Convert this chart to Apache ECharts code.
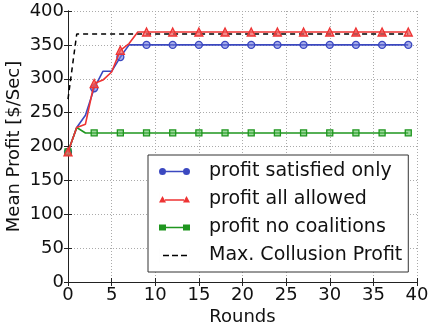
<!DOCTYPE html>
<html>
<head>
<meta charset="utf-8">
<script src="https://cdn.jsdelivr.net/npm/echarts@6/dist/echarts.min.js"></script>
<style>html,body{margin:0;padding:0;background:#fff}#c{width:428px;height:331px}</style>
</head>
<body>
<div id="c"></div>
<script>
var rounds = [0,1,2,3,4,5,6,7,8,9,10,11,12,13,14,15,16,17,18,19,20,21,22,23,24,25,26,27,28,29,30,31,32,33,34,35,36,37,38,39];
var satisfiedOnly = [192,228,246,286,311,311,332,350,350,350,350,350,350,350,350,350,350,350,350,350,350,350,350,350,350,350,350,350,350,350,350,350,350,350,350,350,350,350,350,350];
var allAllowed = [192,228,233,293,298,310,342,352,369,369,369,369,369,369,369,369,369,369,369,369,369,369,369,369,369,369,369,369,369,369,369,369,369,369,369,369,369,369,369,369];
var noCoalitions = [192,228,220,220,220,220,220,220,220,220,220,220,220,220,220,220,220,220,220,220,220,220,220,220,220,220,220,220,220,220,220,220,220,220,220,220,220,220,220,220];
var maxCollusion = [270,366,366,366,366,366,366,366,366,366,366,366,366,366,366,366,366,366,366,366,366,366,366,366,366,366,366,366,366,366,366,366,366,366,366,366,366,366,366,366];
var seriesNames = ['profit satisfied only','profit all allowed','profit no coalitions','Max. Collusion Profit'];
var xTicks = [0,5,10,15,20,25,30,35,40];
var yTicks = [0,50,100,150,200,250,300,350,400];

function pairs(ys){ return rounds.map(function(r,i){ return [r, ys[i]]; }); }
function markSize(size){ return function(v, p){ return p.dataIndex % 3 === 0 ? size : 0; }; }

var FONT = 'DejaVu Sans';
var blue = '#3b48c0', red = '#ee3333', green = '#1f961f';

var circleIcon = 'path://M0,7 A3.5,3.5 0 1 1 7,7 A3.5,3.5 0 1 1 0,7 Z M6,6.2 L25,6.2 L25,7.8 L6,7.8 Z M24,7 A3.5,3.5 0 1 1 31,7 A3.5,3.5 0 1 1 24,7 Z M0,0 L0.01,0 L0.01,14 L0,14 Z';
var triIcon = 'path://M0,10 L3.5,3.5 L7,10 Z M6,6.7 L25,6.7 L25,8.3 L6,8.3 Z M24,10 L27.5,3.5 L31,10 Z M0,0 L0.01,0 L0.01,14 L0,14 Z';
var sqIcon = 'path://M0,4 L7,4 L7,10 L0,10 Z M6,6.2 L25,6.2 L25,7.8 L6,7.8 Z M24,4 L31,4 L31,10 L24,10 Z M0,0 L0.01,0 L0.01,14 L0,14 Z';
var dashIcon = 'path://M4,6.3 L10,6.3 L10,7.7 L4,7.7 Z M13,6.3 L19,6.3 L19,7.7 L13,7.7 Z M22,6.3 L28,6.3 L28,7.7 L22,7.7 Z M0,0 L0.01,0 L0.01,14 L0,14 Z M31,0 L31.01,0 L31.01,14 L31,14 Z';

var chart = echarts.init(document.getElementById('c'));
var axisLine = {show:true, lineStyle:{color:'#222', width:1}};
var option = {
  animation:false,
  backgroundColor:'#fff',
  grid:{left:68, right:11, top:11, bottom:49, containLabel:false, outerBoundsMode:'none'},
  xAxis:[{
    type:'value', min:0, max:40, interval:5,
    name:'Rounds', nameLocation:'middle', nameGap:26, nameMoveOverlap:false,
    nameTextStyle:{fontFamily:FONT, fontSize:18, color:'#111'},
    axisLine:axisLine,
    axisTick:{show:true, inside:true, length:4, lineStyle:{color:'#222'}},
    axisLabel:{fontFamily:FONT, fontSize:18, color:'#111', margin:4, hideOverlap:false, showMinLabel:true, showMaxLabel:true,
      formatter:function(v){ return xTicks.indexOf(v)>=0 ? String(v) : ''; }},
    splitLine:{show:true, lineStyle:{color:'#aaa', type:[1,2], width:1}}
  },{
    type:'value', min:0, max:40, interval:5, position:'top',
    axisLine:axisLine, axisTick:{show:true, inside:true, length:4, lineStyle:{color:'#222'}},
    axisLabel:{show:false}, splitLine:{show:false}
  }],
  yAxis:[{
    type:'value', min:0, max:400, interval:50,
    name:'Mean Profit [$/Sec]', nameLocation:'middle', nameGap:45, nameMoveOverlap:false,
    nameTextStyle:{fontFamily:FONT, fontSize:18, color:'#111'},
    axisLine:axisLine,
    axisTick:{show:true, inside:true, length:4, lineStyle:{color:'#222'}},
    axisLabel:{fontFamily:FONT, fontSize:18, color:'#111', margin:4, showMinLabel:true, showMaxLabel:true,
      formatter:function(v){ return yTicks.indexOf(v)>=0 ? String(v) : ''; }},
    splitLine:{show:true, lineStyle:{color:'#aaa', type:[1,2], width:1}}
  },{
    type:'value', min:0, max:400, interval:50, position:'right',
    axisLine:axisLine, axisTick:{show:true, inside:true, length:4, lineStyle:{color:'#222'}},
    axisLabel:{show:false}, splitLine:{show:false}
  }],
  legend:{
    orient:'vertical', left:148, top:155,
    padding:[7,6,7,11], itemGap:9, itemWidth:31, itemHeight:14,
    backgroundColor:'#fff', borderColor:'#333', borderWidth:1, borderRadius:0,
    textStyle:{fontFamily:FONT, fontSize:19, lineHeight:19, color:'#111', padding:[0,0,0,14]},
    data:[
      {name:seriesNames[0], icon:circleIcon, itemStyle:{color:blue, borderWidth:0}},
      {name:seriesNames[1], icon:triIcon, itemStyle:{color:red, borderWidth:0}},
      {name:seriesNames[2], icon:sqIcon, itemStyle:{color:green, borderWidth:0}},
      {name:seriesNames[3], icon:dashIcon, itemStyle:{color:'#000', borderWidth:0}}
    ]
  },
  series:[
    {name:seriesNames[0], type:'line', data:pairs(satisfiedOnly), symbol:'circle', symbolSize:markSize(7),
      lineStyle:{color:blue, width:1.6}, itemStyle:{color:'rgba(110,120,220,0.6)', borderColor:blue, borderWidth:1.3}, z:3},
    {name:seriesNames[1], type:'line', data:pairs(allAllowed), symbol:'triangle', symbolSize:markSize(8),
      lineStyle:{color:red, width:1.6}, itemStyle:{color:'rgba(240,90,90,0.7)', borderColor:red, borderWidth:1.3}, z:4},
    {name:seriesNames[2], type:'line', data:pairs(noCoalitions), symbol:'rect', symbolSize:markSize(6),
      lineStyle:{color:green, width:1.6}, itemStyle:{color:'rgba(90,190,90,0.6)', borderColor:green, borderWidth:1.3}, z:3},
    {name:seriesNames[3], type:'line', data:pairs(maxCollusion), symbol:'none',
      lineStyle:{color:'#000', width:1.5, type:[5,4]}, itemStyle:{color:'#000'}, z:2}
  ]
};
chart.setOption(option);
</script>
</body>
</html>
